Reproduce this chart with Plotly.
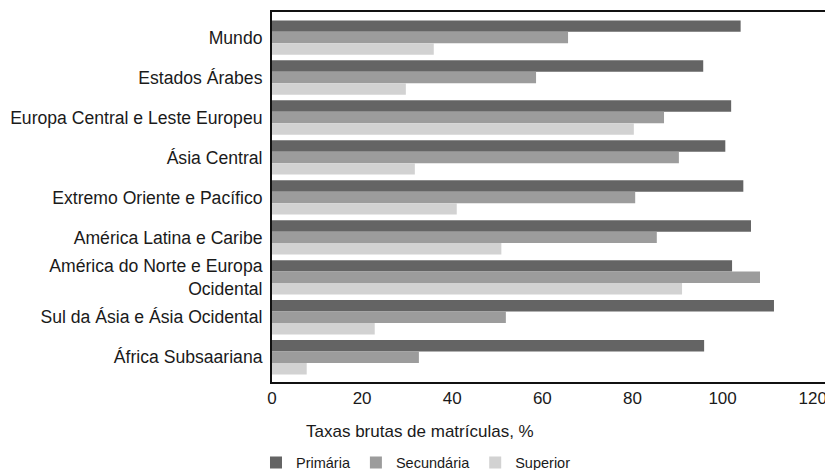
import plotly.graph_objects as go

categories = [
    "Mundo",
    "Estados Árabes",
    "Europa Central e Leste Europeu",
    "Ásia Central",
    "Extremo Oriente e Pacífico",
    "América Latina e Caribe",
    "América do Norte e Europa<br>Ocidental",
    "Sul da Ásia e Ásia Ocidental",
    "África Subsaariana",
]
primaria = [104.0, 95.7, 101.9, 100.6, 104.6, 106.3, 102.1, 111.4, 95.9]
secundaria = [65.7, 58.6, 87.0, 90.3, 80.6, 85.4, 108.3, 51.9, 32.6]
superior = [35.9, 29.7, 80.3, 31.7, 41.0, 50.9, 91.0, 22.8, 7.7]

series_names = ["Primária", "Secundária", "Superior"]
series_values = [primaria, secundaria, superior]
colors = ["#646464", "#9c9c9c", "#d2d2d2"]

x_ticks = [0, 20, 40, 60, 80, 100, 120]

fig = go.Figure()
for name, vals, col in zip(series_names, series_values, colors):
    fig.add_trace(go.Bar(
        y=categories, x=vals, name=name, orientation="h",
        marker=dict(color=col, line=dict(width=0)),
    ))

font_family = "Liberation Sans, Arial, sans-serif"
fig.update_layout(
    width=825, height=462,
    margin=dict(l=264, r=0, t=4, b=88, autoexpand=False),
    barmode="group", bargap=0.14, bargroupgap=0,
    plot_bgcolor="white", paper_bgcolor="white",
    font=dict(family=font_family, size=17, color="#1a1a1a"),
    showlegend=True,
    legend=dict(
        orientation="h", x=0.3006, xanchor="left", y=0.016, yanchor="middle",
        xref="container", yref="container",
        font=dict(size=14.5, color="#1a1a1a"),
        traceorder="normal", bgcolor="rgba(0,0,0,0)",
    ),
    xaxis=dict(
        range=[0, 124.5], tickvals=x_ticks, ticktext=[str(t) for t in x_ticks],
        showgrid=False, zeroline=False, showline=True, linecolor="#111111",
        linewidth=2, mirror=True, ticks="", tickfont=dict(size=17),
        automargin=False,
    ),
    yaxis=dict(
        categoryorder="array", categoryarray=categories,
        autorange=False, range=[8.62, -0.64],
        showgrid=False, zeroline=False, showline=True, linecolor="#111111",
        linewidth=2, ticks="", ticklabelstandoff=4, tickfont=dict(size=17.6),
        automargin=False,
    ),
    annotations=[dict(
        text="Taxas brutas de matrículas, %", xref="paper", yref="paper",
        x=0.263, y=-0.135, xanchor="center", yanchor="middle",
        showarrow=False, font=dict(size=17, color="#1a1a1a"),
    )],
)

fig.write_html("out.html")
